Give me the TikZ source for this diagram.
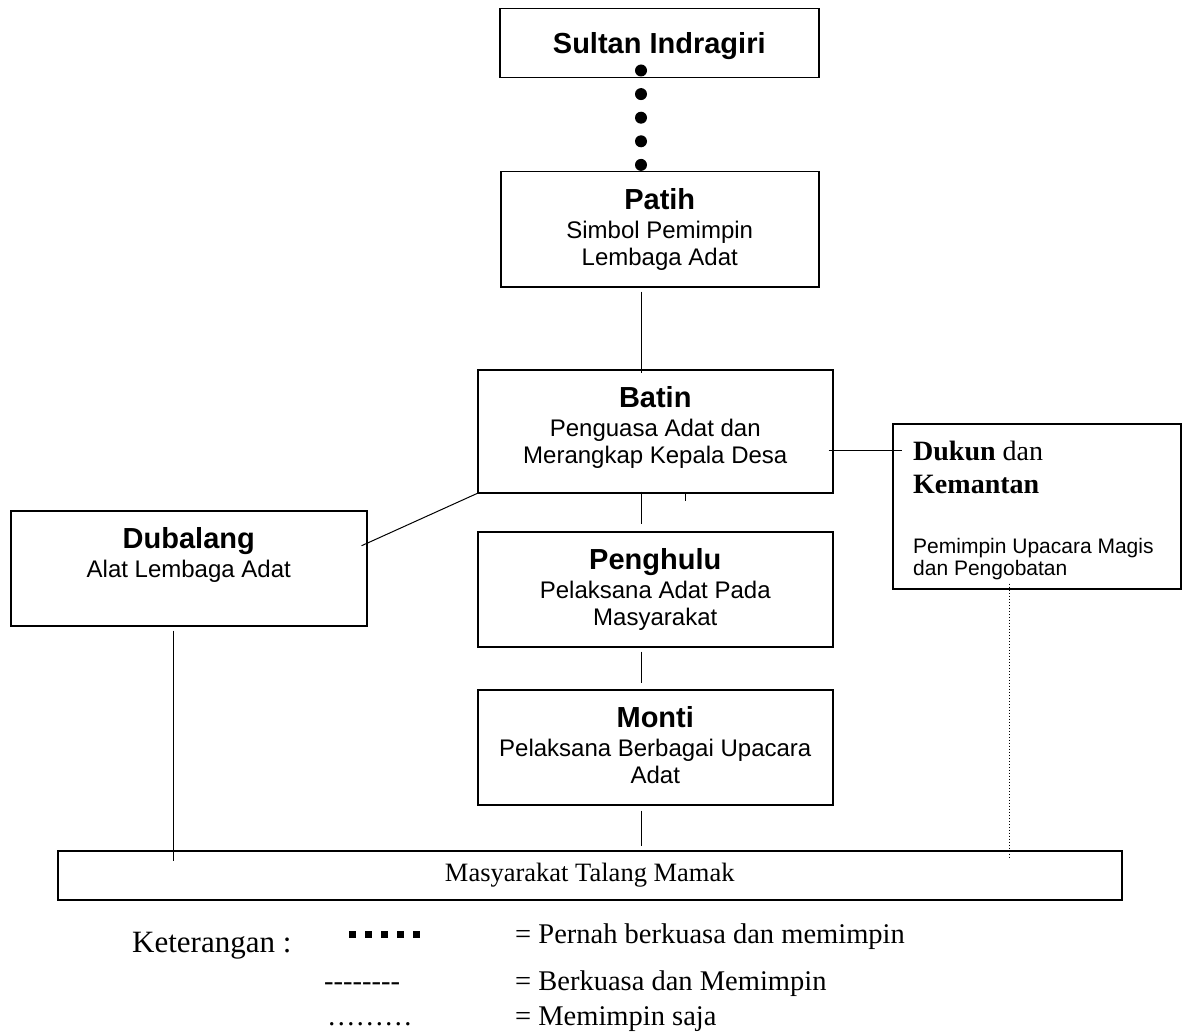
\documentclass[tikz,border=0pt]{standalone}
\usepackage{fontspec}
\setmainfont{Liberation Serif}
\newfontfamily\arialfont{Liberation Sans}
\usetikzlibrary{positioning}
\tikzset{
  orgbox/.style={draw, line width=1.5pt, inner sep=0pt, anchor=north west},
  boxtext/.style={inner sep=0pt, anchor=north, align=center, font=\arialfont\fontsize{24}{27}\selectfont},
  link/.style={line width=1pt},
  dotlink/.style={line width=12pt, line cap=round, dash pattern=on 0pt off 23.6pt},
  dotline/.style={line width=1pt, dash pattern=on 1pt off 2pt},
  legendtxt/.style={inner sep=0pt, anchor=base west, font=\fontsize{28.5}{30}\selectfont},
}
\newcommand{\boxhead}[1]{{\fontsize{29}{31}\selectfont\bfseries #1}\\[2pt]}
\newcommand{\hy}{\hbox{-}}
\begin{document}
\begin{tikzpicture}[x=1pt,y=-1pt]
\useasboundingbox (0,0) rectangle (1182,1032);
%boxes
\node[orgbox, minimum width=319pt, minimum height=69pt] (sultan) at (499,8) {};
\node[orgbox, minimum width=318pt, minimum height=115pt] (patih) at (500,171) {};
\node[orgbox, minimum width=355pt, minimum height=123pt] (batin) at (477,369) {};
\node[orgbox, minimum width=355pt, minimum height=115pt] (penghulu) at (477,531) {};
\node[orgbox, minimum width=355pt, minimum height=115pt] (monti) at (477,689) {};
\node[orgbox, minimum width=356pt, minimum height=115pt] (dubalang) at (10,510) {};
\node[orgbox, minimum width=288pt, minimum height=165pt] (dukun) at (892,423) {};
\node[orgbox, minimum width=1064pt, minimum height=49pt, font=\fontsize{26.5}{28}\selectfont] (masy) at (57,850) {Masyarakat Talang Mamak};
%texts
\node[boxtext, below=24pt of sultan.north] (sultantxt) {{\fontsize{29}{31}\selectfont\bfseries Sultan Indragiri}};
\node[boxtext, below=17pt of patih.north] (patihtxt) {\boxhead{Patih}Simbol Pemimpin\\Lembaga Adat};
\node[boxtext, below=17pt of batin.north] (batintxt) {\boxhead{Batin}Penguasa Adat dan\\Merangkap Kepala Desa};
\node[boxtext, below=17pt of penghulu.north] (penghulutxt) {\boxhead{Penghulu}Pelaksana Adat Pada\\Masyarakat};
\node[boxtext, below=17pt of monti.north] (montitxt) {\boxhead{Monti}Pelaksana Berbagai Upacara\\Adat};
\node[boxtext, below=17pt of dubalang.north] (dubalangtxt) {\boxhead{Dubalang}Alat Lembaga Adat};
\node[inner sep=0pt, anchor=north west, align=left, font=\fontsize{28}{33}\selectfont] (dukuntxt) at ([shift={(21pt,-18pt)}]dukun.north west) {\textbf{Dukun} dan\\\textbf{Kemantan}};
\node[inner sep=0pt, anchor=north west, align=left, font=\arialfont\fontsize{21}{22}\selectfont] (dukundesc) at ([shift={(21pt,-115pt)}]dukun.north west) {Pemimpin Upacara Magis\\dan Pengobatan};
%links
\coordinate (trunk) at (641,0);
\coordinate (dubx) at (173,0);
\coordinate (dukx) at (1009,0);
\draw[dotlink] ([yshift=8pt]sultan.south -| trunk) -- ([yshift=6pt]patih.north -| trunk);
\draw[link] ([yshift=-4pt]patih.south -| trunk) -- ([yshift=-4pt]batin.north -| trunk);
\draw[link] ([yshift=2pt]batin.south -| trunk) -- ([yshift=7pt]penghulu.north -| trunk);
\draw[link] ([yshift=-4pt]penghulu.south -| trunk) -- ([yshift=6pt]monti.north -| trunk);
\draw[link] ([yshift=-5pt]monti.south -| trunk) -- ([yshift=4pt]masy.north -| trunk);
\draw[link] ([xshift=30.5pt]batin.south) -- ++(0,7);
\draw[link] ([shift={(-6pt,22.5pt)}]dubalang.east) -- (batin.south west);
\draw[link] ([shift={(-5pt,-19.5pt)}]batin.east) coordinate (bd) -- ([xshift=10pt]dukun.west |- bd);
\draw[link] ([yshift=-4pt]dubalang.south -| dubx) -- ([yshift=-11pt]masy.north -| dubx);
\draw[dotline] ([yshift=6pt]dukun.south -| dukx) -- ([yshift=-9pt]masy.north -| dukx);
%legend
\node[legendtxt, font=\fontsize{31}{32}\selectfont] (keterangan) at (132,952) {Keterangan :};
\foreach \i in {0,...,4} \fill (349+16*\i,931) rectangle ++(7,7);
\node[legendtxt] (dashsym) at (324,990) {\hy\hy\hy\hy\hy\hy\hy\hy};
\node[legendtxt] (dotsym) at (327,1025) {………};
\node[legendtxt] (ket1) at (515,943) {= Pernah berkuasa dan memimpin};
\node[legendtxt] (ket2) at (515,990) {= Berkuasa dan Memimpin};
\node[legendtxt] (ket3) at (515,1025) {= Memimpin saja};
\end{tikzpicture}
\end{document}
